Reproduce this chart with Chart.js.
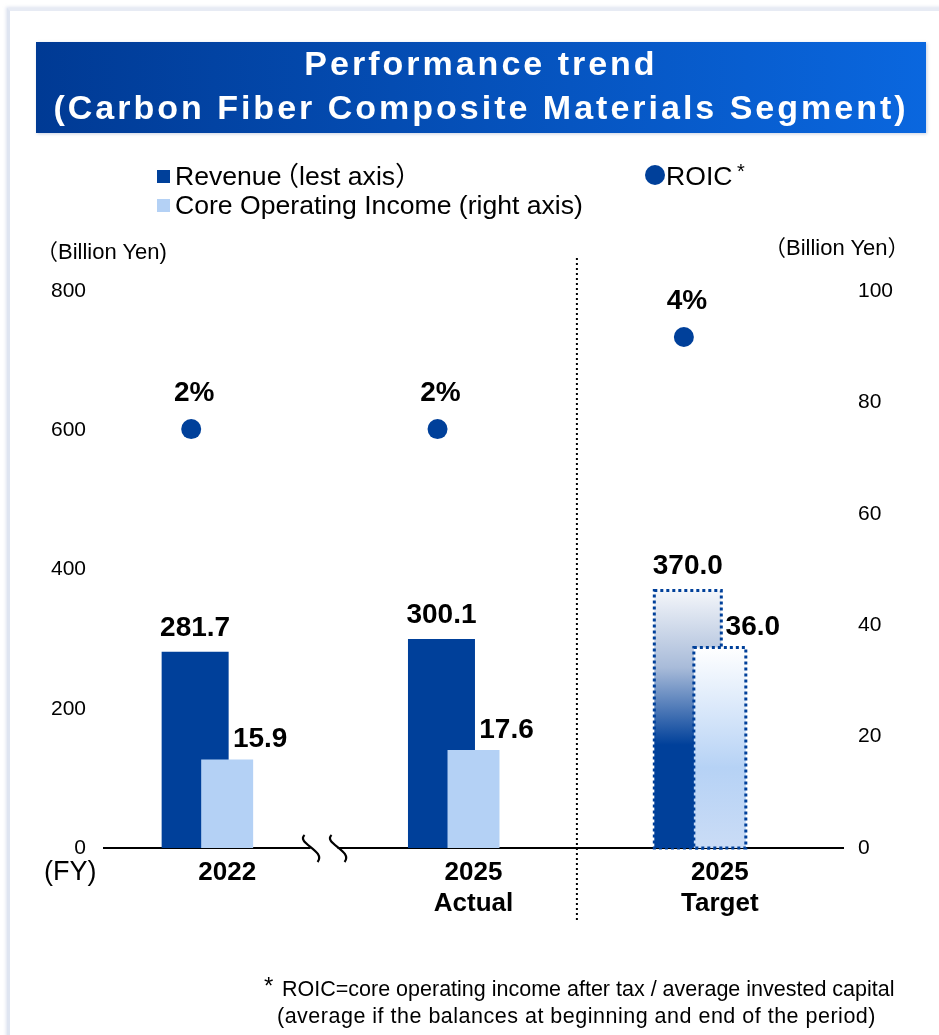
<!DOCTYPE html>
<html>
<head>
<meta charset="utf-8">
<script src="https://cdn.jsdelivr.net/npm/chart.js@4.4.1/dist/chart.umd.min.js"></script>
<style>
  body { margin: 0; background: #fff; font-family: "Liberation Sans", Arial, "Noto Sans CJK JP", sans-serif; color: #000; }
  #page { position: relative; width: 939px; height: 1035px; overflow: hidden; }
  #frame { position: absolute; left: 7px; top: 8px; width: 960px; height: 1060px; border-left: 3px solid #dfe5f1; border-top: 3px solid #e7ebf4; box-shadow: -1px -1px 3px rgba(190, 200, 225, .5); }
  #chart { position: absolute; left: 0; top: 0; }
  #banner { position: absolute; left: 36px; top: 42px; width: 890px; height: 91px; background: linear-gradient(90deg, #003a94, #0a67df); color: #fff;
            font-weight: bold; font-size: 34px; letter-spacing: 3px; text-align: center; line-height: 44px; box-shadow: 1px 1px 3px rgba(120, 140, 180, .4); }
  #banner div { position: relative; top: -1px; }
  .txt { position: absolute; white-space: nowrap; }
  .leg { font-size: 26.6px; line-height: 30px; }
  .sq { position: absolute; width: 13px; height: 13px; }
  .unit { font-size: 22px; line-height: 26px; }
  .foot { font-size: 21.5px; line-height: 25px; }
</style>
</head>
<body>
<div id="page">
  <div id="frame"></div>
  <canvas id="chart" width="939" height="1035"></canvas>
  <div id="banner"><div>Performance trend</div><div>(Carbon Fiber Composite Materials Segment)</div></div>

  <div class="sq" style="left:157px; top:170px; background:#00409a"></div>
  <div class="txt leg" style="left:175px; top:161px">Revenue<span style="margin-left:-9px">（</span>lest axis）</div>
  <div class="sq" style="left:157px; top:199px; background:#b4d1f5"></div>
  <div class="txt leg" style="left:175px; top:190px">Core Operating Income (right axis)</div>
  <div class="sq" style="left:645px; top:165px; width:20px; height:20px; border-radius:50%; background:#00409a"></div>
  <div class="txt leg" style="left:666px; top:161px">ROIC</div>
  <div class="txt" style="left:737px; top:160px; font-size:20px">*</div>

  <div class="txt unit" style="left:36px; top:239px">（Billion Yen)</div>
  <div class="txt unit" style="left:764px; top:235px">（Billion Yen）</div>
  <div class="txt" style="left:44px; top:856px; font-size:27px; line-height:31px">(FY)</div>

  <div class="txt" style="left:264px; top:972px; font-size:24px">*</div>
  <div class="txt foot" style="left:282px; top:977px">ROIC=core operating income after tax / average invested capital</div>
  <div class="txt foot" style="left:277px; top:1004px; letter-spacing:0.5px">(average if the balances at beginning and end of the period)</div>
</div>
<script>
const categories = [['2022'], ['2025', 'Actual'], ['2025', 'Target']];
const revenue = [281.7, 300.1, 370.0];
const coreIncome = [15.9, 17.6, 36.0];
const roic = [2, 2, 4];
const leftTicks = [0, 200, 400, 600, 800];
const rightTicks = [0, 20, 40, 60, 80, 100];

const targetIndex = 2;
const navy = '#00409a';
const light = '#b4d1f5';
// horizontal offsets inside each category (in category units)
const revShift = -0.13;
const coiShift = 0;
const roicShift = -0.146;
const font = '"Liberation Sans", Arial, sans-serif';

Chart.defaults.font.family = font;
Chart.defaults.color = '#000';

function gradientFill(stops, solid) {
  return c => {
    const chart = c.chart;
    if (c.dataIndex !== targetIndex || !chart.chartArea || !c.parsed) return solid;
    const y = chart.scales[c.dataset.yAxisID];
    const top = y.getPixelForValue(c.parsed.y);
    const base = y.getPixelForValue(0);
    const g = chart.ctx.createLinearGradient(0, top, 0, base);
    stops.forEach(s => g.addColorStop(s[0], s[1]));
    return g;
  };
}

// hidden linear x axes that line up with the category axis
function slotAxis() {
  return {
    type: 'linear', display: false, offset: false, min: -0.5, max: categories.length - 0.5,
    afterBuildTicks: s => { s.ticks = categories.map((c, i) => ({ value: i })); }
  };
}

// plugin: dotted frame on the target bars, value labels, separators
const decorations = {
  id: 'decorations',
  afterDatasetDraw(chart, args) {
    const ds = chart.data.datasets[args.index];
    if (!ds.dotted) return;
    const bar = args.meta.data[targetIndex];
    const p = bar.getProps(['x', 'y', 'base', 'width'], true);
    const ctx = chart.ctx;
    ctx.save();
    ctx.strokeStyle = navy;
    ctx.lineWidth = 3;
    ctx.setLineDash([3, 3]);
    ctx.strokeRect(p.x - p.width / 2, p.y, p.width, p.base - p.y);
    ctx.restore();
  },
  afterDraw(chart) {
    const ctx = chart.ctx;
    const rev = chart.getDatasetMeta(0).data;
    const coi = chart.getDatasetMeta(1).data;
    const pts = chart.getDatasetMeta(2).data;
    const axisY = chart.scales.y.getPixelForValue(0);
    ctx.save();

    // dotted separator between actual and target
    const sepX = (coi[1].x + coi[1].width / 2 + rev[2].x - rev[2].width / 2) / 2;
    ctx.strokeStyle = '#000';
    ctx.lineWidth = 2;
    ctx.setLineDash([2, 3]);
    ctx.beginPath();
    ctx.moveTo(sepX, 258);
    ctx.lineTo(sepX, 920);
    ctx.stroke();
    ctx.setLineDash([]);

    // axis break marks
    const mid = (coi[0].x + coi[0].width / 2 + rev[1].x - rev[1].width / 2) / 2;
    const marks = [mid - 20, mid + 7];
    ctx.fillStyle = '#fff';
    ctx.fillRect(marks[0], axisY - 3, marks[1] - marks[0], 6);
    ctx.lineWidth = 2.2;
    marks.forEach(x => {
      ctx.beginPath();
      ctx.moveTo(x - 6, axisY - 13);
      ctx.bezierCurveTo(x - 15, axisY - 5, x + 16, axisY + 3, x + 7, axisY + 14);
      ctx.stroke();
    });

    // value labels
    ctx.fillStyle = '#000';
    ctx.font = 'bold 28px ' + font;
    ctx.textAlign = 'center';
    ctx.textBaseline = 'alphabetic';
    rev.forEach((b, i) => ctx.fillText(revenue[i].toFixed(1), b.x, b.y - 16));
    coi.forEach((b, i) => ctx.fillText(coreIncome[i].toFixed(1), b.x + 33, b.y - 12));
    pts.forEach((p, i) => ctx.fillText(roic[i] + '%', p.x + 3, p.y - 28));
    ctx.restore();
  }
};

new Chart(document.getElementById('chart'), {
  type: 'bar',
  data: {
    labels: categories,
    datasets: [
      {
        label: 'Revenue（lest axis）', order: 2, xAxisID: 'xa', yAxisID: 'y',
        data: revenue.map((v, i) => ({ x: i + revShift, y: v })),
        backgroundColor: gradientFill([[0, '#f4f6fa'], [0.3, '#a8bbd9'], [0.6, navy], [1, navy]], navy),
        grouped: false, categoryPercentage: 1, barPercentage: 0.272, dotted: true
      },
      {
        label: 'Core Operating Income (right axis)', order: 1, xAxisID: 'xb', yAxisID: 'y1',
        data: coreIncome.map((v, i) => ({ x: i + coiShift, y: v })),
        backgroundColor: gradientFill([[0, '#ffffff'], [0.6, '#b6d2f5'], [1, '#cadcf6']], light),
        grouped: false, categoryPercentage: 1, barPercentage: 0.211, dotted: true
      },
      {
        type: 'scatter', label: 'ROIC', order: 0, xAxisID: 'xa', yAxisID: 'yr',
        data: roic.map((v, i) => ({ x: i + roicShift, y: v })),
        pointRadius: 10, pointHoverRadius: 10, backgroundColor: navy, borderWidth: 0
      }
    ]
  },
  options: {
    responsive: false,
    animation: false,
    layout: { padding: { top: 291, left: 0, right: 0, bottom: 0 } },
    plugins: { legend: { display: false }, tooltip: { enabled: false } },
    scales: {
      x: {
        type: 'category', offset: true,
        grid: { display: false, drawTicks: false },
        border: { display: true, color: '#000', width: 2 },
        ticks: { font: { size: 26, weight: 'bold' }, padding: 9, maxRotation: 0, autoSkip: false },
        afterFit: s => { s.height = 1035 - 848; }
      },
      xa: slotAxis(),
      xb: slotAxis(),
      y: {
        position: 'left', min: 0, max: 800,
        grid: { display: false, drawTicks: false },
        border: { display: false },
        ticks: { font: { size: 21 }, padding: 18 },
        afterBuildTicks: s => { s.ticks = leftTicks.map(v => ({ value: v })); },
        afterFit: s => { s.width = 104; }
      },
      y1: {
        position: 'right', min: 0, max: 100,
        grid: { display: false, drawTicks: false },
        border: { display: false },
        ticks: { font: { size: 21 }, padding: 15 },
        afterBuildTicks: s => { s.ticks = rightTicks.map(v => ({ value: v })); },
        afterFit: s => { s.width = 96; }
      },
      yr: { type: 'linear', display: false, min: -7.1, max: 5.0 }
    }
  },
  plugins: [decorations]
});
</script>
</body>
</html>
